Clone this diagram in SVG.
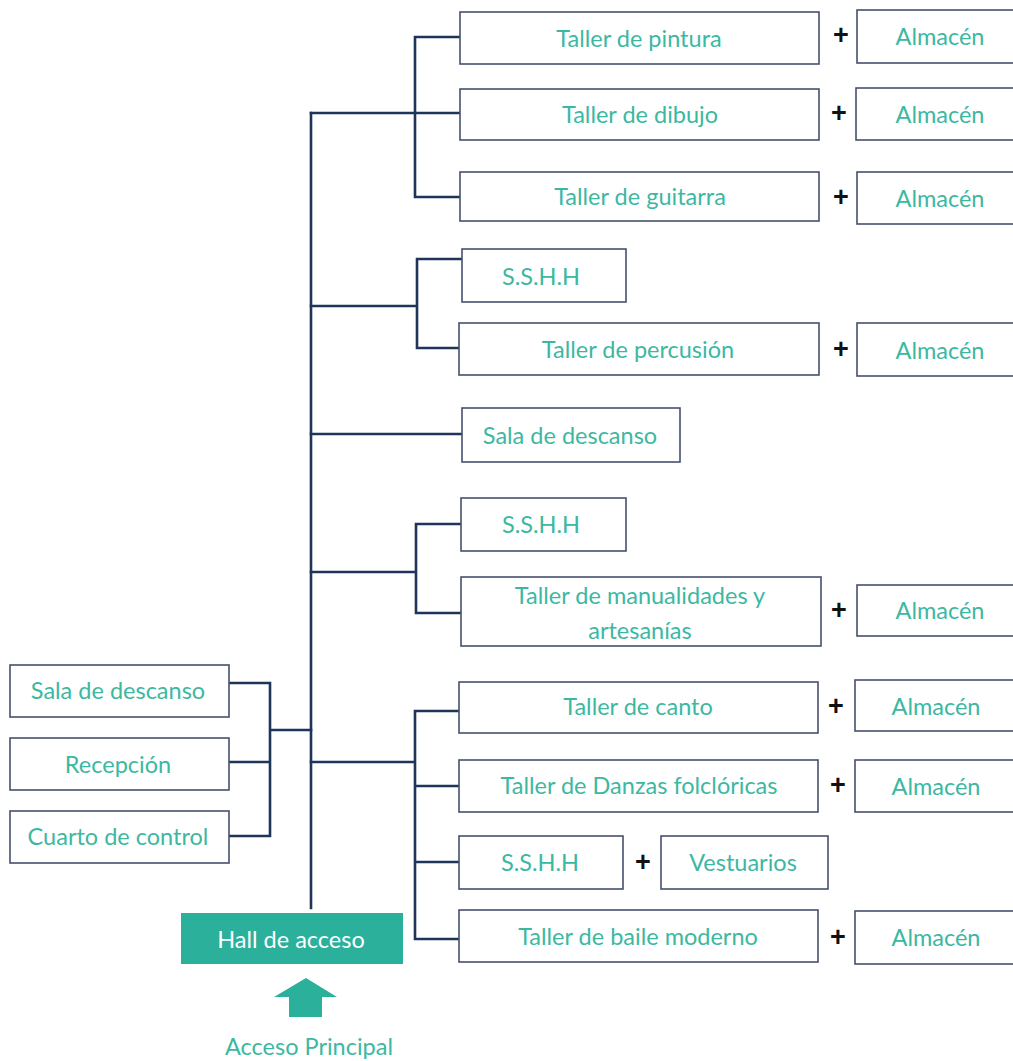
<svg xmlns="http://www.w3.org/2000/svg" width="1013" height="1061" viewBox="0 0 1013 1061">
<style>
.b{fill:#fff;stroke:#46516e;stroke-width:1.6}
.t{font-family:Lato,"Open Sans",sans-serif;font-size:23.5px;fill:#3cb8a2;text-anchor:middle;dominant-baseline:central}
.p{font-family:"Liberation Sans",sans-serif;font-size:27px;font-weight:bold;fill:#111;text-anchor:middle;dominant-baseline:central}
.c{fill:none;stroke:#1f3459;stroke-width:2.6;stroke-linecap:square}
</style>
<rect width="1013" height="1061" fill="#fff"/>
<g id="connectors">
<path class="c" d="M311,113 V908"/>
<path class="c" d="M311,113 H415 M415,37 V197 M415,37 H460 M415,113 H460 M415,197 H460"/>
<path class="c" d="M311,306 H417 M417,259 V348 M417,259 H461 M417,348 H459"/>
<path class="c" d="M311,434 H462"/>
<path class="c" d="M311,572 H416 M416,524 V613 M416,524 H461 M416,613 H461"/>
<path class="c" d="M270,730 H311 M270,683 V836 M229,683 H270 M229,762 H270 M229,836 H270"/>
<path class="c" d="M311,762 H415 M415,711 V939 M415,711 H459 M415,786 H459 M415,862 H459 M415,939 H459"/>
</g>
<g id="n_pintura"><rect class="b" x="460" y="12" width="359" height="52"/><text class="t" x="639" y="38">Taller de pintura</text></g>
<g id="n_alm1"><rect class="b" x="857" y="10" width="170" height="53"/><text class="t" x="940" y="36">Almacén</text></g>
<g id="n_dibujo"><rect class="b" x="460" y="89" width="359" height="51"/><text class="t" x="640" y="114">Taller de dibujo</text></g>
<g id="n_alm2"><rect class="b" x="856" y="88" width="170" height="52"/><text class="t" x="940" y="114">Almacén</text></g>
<g id="n_guitarra"><rect class="b" x="460" y="172" width="359" height="49"/><text class="t" x="640" y="196">Taller de guitarra</text></g>
<g id="n_alm3"><rect class="b" x="857" y="172" width="170" height="52"/><text class="t" x="940" y="198">Almacén</text></g>
<g id="n_sshh1"><rect class="b" x="462" y="249" width="164" height="53"/><text class="t" x="541" y="276">S.S.H.H</text></g>
<g id="n_percusion"><rect class="b" x="459" y="323" width="360" height="52"/><text class="t" x="638" y="349">Taller de percusión</text></g>
<g id="n_alm4"><rect class="b" x="857" y="323" width="170" height="53"/><text class="t" x="940" y="350">Almacén</text></g>
<g id="n_sala1"><rect class="b" x="462" y="408" width="218" height="54"/><text class="t" x="570" y="435">Sala de descanso</text></g>
<g id="n_sshh2"><rect class="b" x="461" y="498" width="165" height="53"/><text class="t" x="541" y="524">S.S.H.H</text></g>
<g id="n_manualidades"><rect class="b" x="461" y="577" width="360" height="69"/><text class="t" x="640" y="595">Taller de manualidades y</text><text class="t" x="640" y="630">artesanías</text></g>
<g id="n_alm5"><rect class="b" x="857" y="585" width="170" height="51"/><text class="t" x="940" y="610">Almacén</text></g>
<g id="n_sala2"><rect class="b" x="10" y="665" width="219" height="52"/><text class="t" x="118" y="690">Sala de descanso</text></g>
<g id="n_recepcion"><rect class="b" x="10" y="738" width="219" height="52"/><text class="t" x="118" y="764">Recepción</text></g>
<g id="n_cuarto"><rect class="b" x="10" y="811" width="219" height="52"/><text class="t" x="118" y="836">Cuarto de control</text></g>
<g id="n_canto"><rect class="b" x="459" y="682" width="359" height="51"/><text class="t" x="638" y="706">Taller de canto</text></g>
<g id="n_alm6"><rect class="b" x="855" y="680" width="170" height="51"/><text class="t" x="936" y="706">Almacén</text></g>
<g id="n_danzas"><rect class="b" x="459" y="760" width="359" height="52"/><text class="t" x="639" y="785">Taller de Danzas folclóricas</text></g>
<g id="n_alm7"><rect class="b" x="855" y="760" width="170" height="52"/><text class="t" x="936" y="786">Almacén</text></g>
<g id="n_sshh3"><rect class="b" x="459" y="836" width="164" height="53"/><text class="t" x="540" y="862">S.S.H.H</text></g>
<g id="n_vestuarios"><rect class="b" x="661" y="836" width="167" height="53"/><text class="t" x="743" y="862">Vestuarios</text></g>
<g id="n_baile"><rect class="b" x="459" y="910" width="359" height="52"/><text class="t" x="638" y="936">Taller de baile moderno</text></g>
<g id="n_alm8"><rect class="b" x="855" y="911" width="170" height="53"/><text class="t" x="936" y="937">Almacén</text></g>
<g id="plus">
<text class="p" x="841" y="35">+</text>
<text class="p" x="839" y="113">+</text>
<text class="p" x="841" y="197">+</text>
<text class="p" x="841" y="349">+</text>
<text class="p" x="839" y="610">+</text>
<text class="p" x="836" y="706">+</text>
<text class="p" x="838" y="785">+</text>
<text class="p" x="643" y="862">+</text>
<text class="p" x="838" y="937">+</text>
</g>
<g id="n_hall"><rect x="181" y="913" width="222" height="51" fill="#2bb09c"/><text class="t" x="291" y="939" style="fill:#fff">Hall de acceso</text></g>
<g id="n_acceso"><path d="M274,997 L306,978 L337,997 L322,997 L322,1017 L289,1017 L289,997 Z" fill="#2bb09c"/><text class="t" x="309" y="1046">Acceso Principal</text></g>
</svg>
